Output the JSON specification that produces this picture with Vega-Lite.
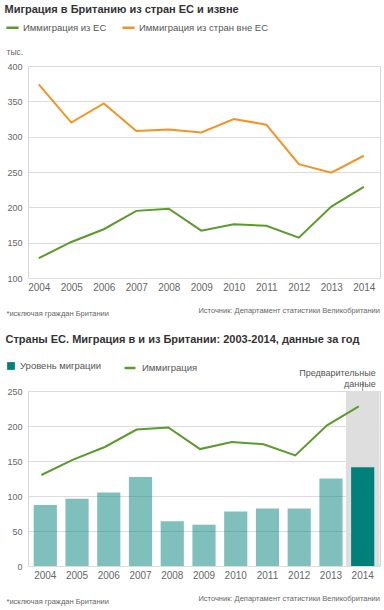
{
  "$schema": "https://vega.github.io/schema/vega-lite/v6.json",
  "background": "white",
  "padding": {"left": 4, "top": 3, "right": 4, "bottom": 2},
  "config": {
    "font": "Liberation Sans",
    "view": {"stroke": "#d6d6d6"},
    "axis": {"labelFont": "Liberation Sans", "labelColor": "#666666", "gridColor": "#dcdcdc", "domain": false, "ticks": false, "titleFont": "Liberation Sans"},
    "legend": {"labelFont": "Liberation Sans", "labelFontSize": 9.5, "labelColor": "#555555", "title": null},
    "title": {"font": "Liberation Sans"},
    "concat": {"spacing": 16}
  },
  "resolve": {
    "scale": {"color": "independent", "fill": "independent", "stroke": "independent", "opacity": "independent"},
    "legend": {"color": "independent", "fill": "independent", "stroke": "independent", "opacity": "independent"}
  },
  "vconcat": [
    {
      "title": {"text": "Миграция в Британию из стран ЕС и извне", "anchor": "start", "fontSize": 11, "fontWeight": "bold", "color": "#333333", "offset": 5},
      "resolve": {"legend": {"color": "independent"}},
      "vconcat": [
        {
          "width": 352,
          "height": 212,
          "title": {"text": "Источник: Департамент статистики Великобритании", "orient": "bottom", "anchor": "end", "fontSize": 7.5, "fontWeight": "normal", "color": "#666666", "offset": -10},
          "data": {"values": [
            {"year": "2004", "series": "Иммиграция из ЕС", "value": 128},
            {"year": "2005", "series": "Иммиграция из ЕС", "value": 151},
            {"year": "2006", "series": "Иммиграция из ЕС", "value": 169},
            {"year": "2007", "series": "Иммиграция из ЕС", "value": 195},
            {"year": "2008", "series": "Иммиграция из ЕС", "value": 198},
            {"year": "2009", "series": "Иммиграция из ЕС", "value": 167},
            {"year": "2010", "series": "Иммиграция из ЕС", "value": 176},
            {"year": "2011", "series": "Иммиграция из ЕС", "value": 174},
            {"year": "2012", "series": "Иммиграция из ЕС", "value": 157},
            {"year": "2013", "series": "Иммиграция из ЕС", "value": 201},
            {"year": "2014", "series": "Иммиграция из ЕС", "value": 229},
            {"year": "2004", "series": "Иммиграция из стран вне ЕС", "value": 374},
            {"year": "2005", "series": "Иммиграция из стран вне ЕС", "value": 320},
            {"year": "2006", "series": "Иммиграция из стран вне ЕС", "value": 347},
            {"year": "2007", "series": "Иммиграция из стран вне ЕС", "value": 308},
            {"year": "2008", "series": "Иммиграция из стран вне ЕС", "value": 310},
            {"year": "2009", "series": "Иммиграция из стран вне ЕС", "value": 306},
            {"year": "2010", "series": "Иммиграция из стран вне ЕС", "value": 325},
            {"year": "2011", "series": "Иммиграция из стран вне ЕС", "value": 317},
            {"year": "2012", "series": "Иммиграция из стран вне ЕС", "value": 261},
            {"year": "2013", "series": "Иммиграция из стран вне ЕС", "value": 249},
            {"year": "2014", "series": "Иммиграция из стран вне ЕС", "value": 273}
          ]},
          "mark": {"type": "line", "strokeWidth": 2},
          "encoding": {
            "x": {
              "field": "year", "type": "ordinal",
              "scale": {"type": "point", "padding": 0.415, "align": 0.4},
              "axis": {"labelAngle": 0, "labelFontSize": 10, "labelPadding": 4, "grid": false,
                "title": "*исключая граждан Британии", "titleFontSize": 7.5, "titleFontWeight": "normal", "titleColor": "#666666",
                "titleAnchor": "start", "titleAlign": "left", "titleX": -22, "titlePadding": 17}
            },
            "y": {
              "field": "value", "type": "quantitative",
              "scale": {"domain": [100, 400], "nice": false, "zero": false},
              "axis": {"values": [100, 150, 200, 250, 300, 350, 400], "labelFontSize": 9, "labelPadding": 6,
                "title": "тыс.", "titleAngle": 0, "titleFontSize": 8.5, "titleFontWeight": "normal", "titleColor": "#666666",
                "titleAlign": "left", "titleBaseline": "middle", "titleX": -22, "titleY": -15}
            },
            "color": {
              "field": "series", "type": "nominal",
              "scale": {"domain": ["Иммиграция из ЕС", "Иммиграция из стран вне ЕС"], "range": ["#5b9a2d", "#f39325"]},
              "legend": {"orient": "none", "legendX": -23, "legendY": -46, "direction": "horizontal", "symbolType": "stroke", "symbolSize": 150, "symbolStrokeWidth": 2.5, "labelOffset": 3, "columnPadding": 10}
            }
          }
        }
      ]
    },
    {
      "title": {"text": "Страны ЕС. Миграция в и из Британии: 2003-2014, данные за год", "anchor": "start", "fontSize": 11, "fontWeight": "bold", "color": "#333333", "offset": 16},
      "resolve": {"legend": {"fill": "independent", "stroke": "independent", "opacity": "independent"}},
      "vconcat": [
        {
          "width": 352,
          "height": 175,
          "title": {"text": "Источник: Департамент статистики Великобритании", "orient": "bottom", "anchor": "end", "fontSize": 7.5, "fontWeight": "normal", "color": "#666666", "offset": -10},
          "encoding": {
            "x": {
              "field": "year", "type": "ordinal",
              "scale": {"type": "band", "paddingInner": 0.27, "paddingOuter": 0.18},
              "axis": {"labelAngle": 0, "labelFontSize": 10, "labelPadding": 4, "grid": false,
                "title": "*исключая граждан Британии", "titleFontSize": 7.5, "titleFontWeight": "normal", "titleColor": "#666666",
                "titleAnchor": "start", "titleAlign": "left", "titleX": -22, "titlePadding": 17}
            }
          },
          "layer": [
            {
              "data": {"values": [{"year": "2014", "top": 250}]},
              "mark": {"type": "bar", "color": "#dedede", "width": {"band": 1.45}},
              "encoding": {
                "y": {
                  "field": "top", "type": "quantitative",
                  "scale": {"domain": [0, 250], "nice": false},
                  "axis": {"values": [0, 50, 100, 150, 200, 250], "labelFontSize": 9, "labelPadding": 6, "title": null, "labelOverlap": false}
                }
              }
            },
            {
              "data": {"values": [
                {"year": "2004", "series": "Уровень миграции", "status": "final", "net": 87},
                {"year": "2005", "series": "Уровень миграции", "status": "final", "net": 96},
                {"year": "2006", "series": "Уровень миграции", "status": "final", "net": 105},
                {"year": "2007", "series": "Уровень миграции", "status": "final", "net": 127},
                {"year": "2008", "series": "Уровень миграции", "status": "final", "net": 64},
                {"year": "2009", "series": "Уровень миграции", "status": "final", "net": 59},
                {"year": "2010", "series": "Уровень миграции", "status": "final", "net": 78},
                {"year": "2011", "series": "Уровень миграции", "status": "final", "net": 82},
                {"year": "2012", "series": "Уровень миграции", "status": "final", "net": 82},
                {"year": "2013", "series": "Уровень миграции", "status": "final", "net": 125},
                {"year": "2014", "series": "Уровень миграции", "status": "provisional", "net": 141}
              ]},
              "mark": {"type": "bar"},
              "encoding": {
                "y": {
                  "field": "net", "type": "quantitative",
                  "axis": {"values": [0, 50, 100, 150, 200, 250], "labelFontSize": 9, "labelPadding": 6, "title": null, "labelOverlap": false}
                },
                "fill": {
                  "field": "series", "type": "nominal",
                  "scale": {"domain": ["Уровень миграции"], "range": ["#00807a"]},
                  "legend": {"orient": "none", "legendX": -22, "legendY": -30, "symbolType": "square", "symbolSize": 60, "labelOffset": 4}
                },
                "opacity": {
                  "field": "status", "type": "nominal",
                  "scale": {"domain": ["final", "provisional"], "range": [0.5, 1]},
                  "legend": null
                }
              }
            },
            {
              "data": {"values": [
                {"year": "2004", "series": "Иммиграция", "value": 130},
                {"year": "2005", "series": "Иммиграция", "value": 152},
                {"year": "2006", "series": "Иммиграция", "value": 170},
                {"year": "2007", "series": "Иммиграция", "value": 195},
                {"year": "2008", "series": "Иммиграция", "value": 198},
                {"year": "2009", "series": "Иммиграция", "value": 167},
                {"year": "2010", "series": "Иммиграция", "value": 177},
                {"year": "2011", "series": "Иммиграция", "value": 174},
                {"year": "2012", "series": "Иммиграция", "value": 158},
                {"year": "2013", "series": "Иммиграция", "value": 201},
                {"year": "2014", "series": "Иммиграция", "value": 228}
              ]},
              "mark": {"type": "line", "strokeWidth": 2},
              "encoding": {
                "x": {"field": "year", "type": "ordinal", "bandPosition": 0.33},
                "y": {
                  "field": "value", "type": "quantitative",
                  "axis": {"values": [0, 50, 100, 150, 200, 250], "labelFontSize": 9, "labelPadding": 6, "title": null, "labelOverlap": false}
                },
                "stroke": {
                  "field": "series", "type": "nominal",
                  "scale": {"domain": ["Иммиграция"], "range": ["#5b9a2d"]},
                  "legend": {"orient": "none", "legendX": 95, "legendY": -30, "symbolType": "stroke", "symbolSize": 121, "symbolStrokeWidth": 2.5, "labelOffset": 5}
                }
              }
            },
            {
              "data": {"values": [{"year": "2014", "note": "Предварительные данные"}]},
              "mark": {"type": "rule", "color": "#999999", "strokeWidth": 1, "clip": false},
              "encoding": {
                "y": {"datum": 250, "axis": {"values": [0, 50, 100, 150, 200, 250], "labelFontSize": 9, "labelPadding": 6, "title": null, "labelOverlap": false}},
                "y2": {"datum": 264}
              }
            },
            {
              "data": {"values": [{"year": "2014", "note": "Предварительные данные"}]},
              "mark": {"type": "text", "align": "right", "baseline": "bottom", "dx": 13, "dy": -13, "fontSize": 9, "color": "#555555", "lineHeight": 11},
              "encoding": {
                "y": {"datum": 250, "axis": {"values": [0, 50, 100, 150, 200, 250], "labelFontSize": 9, "labelPadding": 6, "title": null, "labelOverlap": false}},
                "text": {"value": ["Предварительные", "данные"]}
              }
            }
          ]
        }
      ]
    }
  ]
}
